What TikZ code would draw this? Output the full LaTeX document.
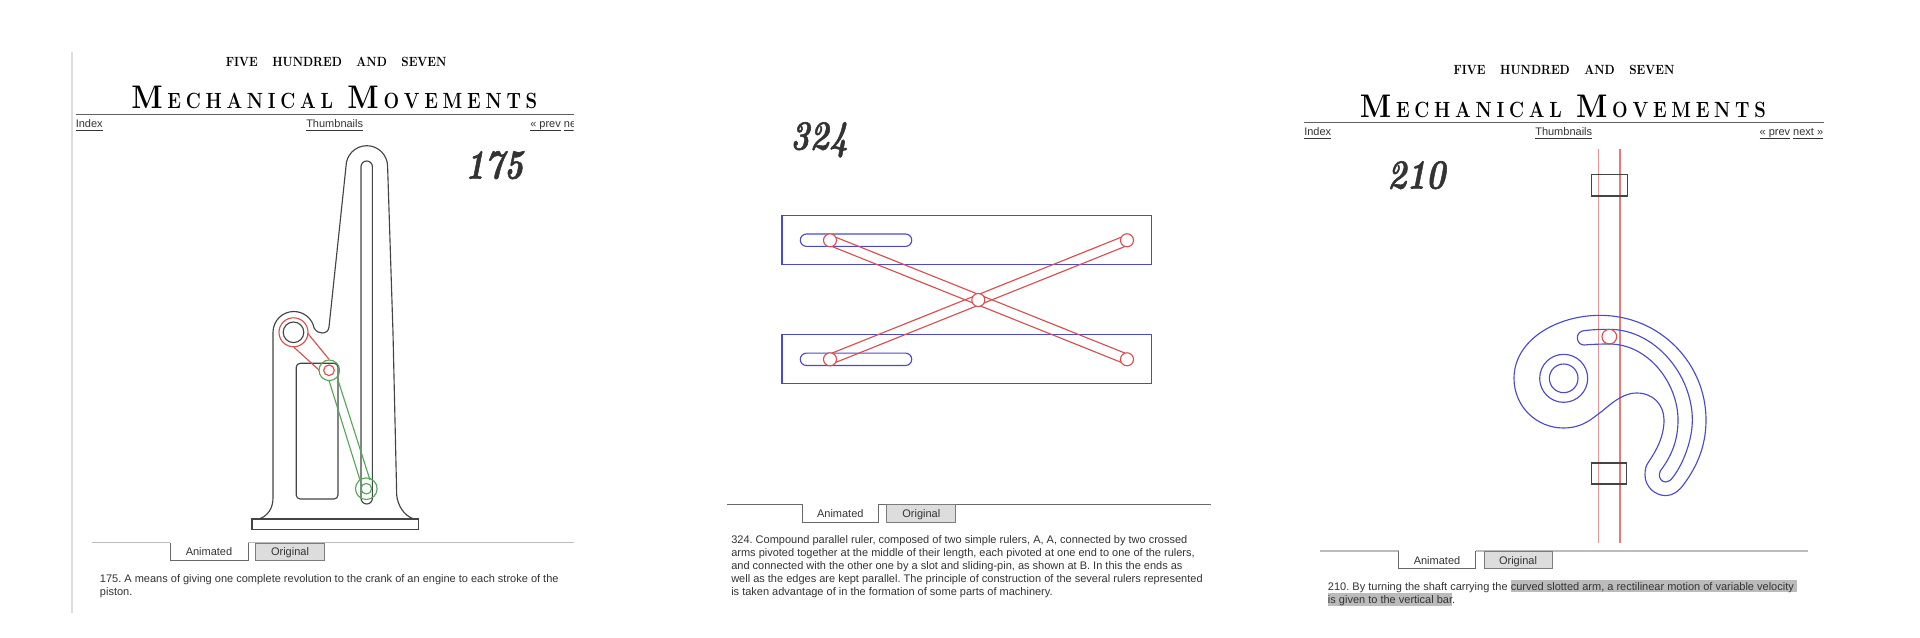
\documentclass[tikz,border=0pt]{standalone}
\usepackage{fontspec}
\usepackage{graphicx}
\setsansfont{Liberation Sans}
\definecolor{ink}{HTML}{333333}
\definecolor{fr}{HTML}{444444}
\definecolor{rd}{HTML}{D94F4F}
\definecolor{bl}{HTML}{4A4ACB}
\definecolor{gr}{HTML}{55A855}
\definecolor{tabf}{HTML}{DDDDDD}
\definecolor{hl}{HTML}{BBBBBB}
\newcommand\thick[2]{\special{pdf:code 2 Tr #1 w}#2\special{pdf:code 0 Tr}}
\newcommand\tlb[1]{\scalebox{.9}[1]{\bfseries\fontsize{24.5}{25}\selectfont #1}}
\newcommand\tls[1]{\scalebox{.84}[1]{\bfseries\fontsize{16.5}{18}\selectfont #1}}
\newcommand\mechtitle{\makebox[304.5pt][s]{\tlb{M}\hfil\tls{E}\hfil\tls{C}\hfil\tls{H}\hfil\tls{A}\hfil\tls{N}\hfil\tls{I}\hfil\tls{C}\hfil\tls{A}\hfil\tls{L}\hfil\hfil\hfil\tlb{M}\hfil\tls{O}\hfil\tls{V}\hfil\tls{E}\hfil\tls{M}\hfil\tls{E}\hfil\tls{N}\hfil\tls{T}\hfil\tls{S}}}
\newcommand\fw[1]{\scalebox{.86}[1]{\bfseries\fontsize{10}{12}\selectfont\addfontfeature{LetterSpace=3} #1}}
\newcommand\fivetitle{\makebox[165.5pt][s]{\fw{FIVE}\hfil\fw{HUNDRED}\hfil\fw{AND}\hfil\fw{SEVEN}}}
\newcommand\bignum[1]{\resizebox{43.5pt}{20.5pt}{\bfseries\itshape\thick{0.14}{#1}}}
\newcommand\ul[1]{\underline{\smash{#1}}}
\tikzset{
  lk/.style={line width=0.85pt,draw=fr},
  redl/.style={line width=0.85pt,draw=rd},
  grn/.style={line width=0.85pt,draw=gr},
  blu/.style={line width=0.85pt,draw=bl},
  rulel/.style={line width=1pt,draw=#1},
  title/.style={anchor=base west,inner sep=0pt,text=black},
  navl/.style={anchor=base west,inner sep=0pt,text=ink,font=\sffamily\fontsize{8.25}{10}\selectfont},
  bodyl/.style={anchor=base west,inner sep=0pt,text=ink,font=\sffamily\frenchspacing\fontsize{8.25}{10}\selectfont},
  tabl/.style={anchor=base,inner sep=0pt,text=ink,font=\sffamily\fontsize{8.25}{10}\selectfont},
  num/.style={anchor=base west,inner sep=0pt,text=ink},
}
\begin{document}
\begin{tikzpicture}[x=0.75pt,y=-0.75pt]
\useasboundingbox (0,0) rectangle (1920,638);
\fill[white] (0,0) rectangle (1920,638);
% ---------- panel 1
\draw[line width=1.2pt,draw=tabf] (72,52) -- (72,613);
\node[title] (t1a) at (225.5,67) {\fivetitle};
\node[title] (t1b) at (131,109) {\mechtitle};
\draw[rulel=fr!85] (75.5,114.3) -- (574,114.3);
\node[navl] (n1a) at (75.5,128) {\ul{Index}};
\node[navl] (n1b) at (306,128) {\ul{Thumbnails}};
\begin{scope}
\clip (500,115) rectangle (573.5,140);
\node[navl] (n1c) at (530,128) {\ul{« prev} \ul{next »}};
\end{scope}
\node[num] (p1) at (465,178.5) {\bignum{175}};
% frame
\draw[lk] (260,518.6) .. controls (268,515.5) and (273,508) .. (273,498) -- (273,332.3)
  arc[start angle=180,end angle=349,radius=20.8]
  .. controls (316.5,331.5) and (319,333) .. (322,333)
  .. controls (326,333) and (328.5,331) .. (329,327)
  -- (346,166.5) arc[start angle=180,end angle=360,radius=20.8]
  -- (393,333) -- (396.7,495) .. controls (397.5,505) and (404,516) .. (414,519);
\draw[lk] (252,519) rectangle (418.7,529.6);
\draw[lk] (361,166.7) arc[start angle=180,end angle=360,radius=5.7] -- (372.4,498.3)
  arc[start angle=0,end angle=180,radius=5.7] -- cycle;
\draw[lk,rounded corners=3pt] (296.2,363.3) rectangle (338,499);
\draw[lk] (293.5,332.3) circle[radius=10.3];
% links
\draw[redl] (293.5,332.3) circle[radius=14.5];
\draw[redl] (307.7,333.3) -- (329,359.3);
\draw[redl] (294,347.3) -- (319.3,370.3);
\draw[redl] (329,370.3) circle[radius=5.3];
\draw[grn] (329.3,370.3) circle[radius=10.3];
\draw[grn] (329,380.5) -- (360,480);
\draw[grn] (337.5,378.5) -- (370,480);
\draw[grn] (366.3,488.7) circle[radius=10.8];
\draw[grn] (366.3,488.7) circle[radius=5.3];
% tabs
\draw[rulel=hl] (91.7,542.7) -- (170.3,542.7);
\draw[rulel=hl] (248,542.7) -- (574,542.7);
\draw[line width=0.75pt,draw=fr!80] (170.3,542.7) -- (170.3,560.3) -- (248,560.3) -- (248,542.7);
\draw[line width=0.75pt,draw=fr!70,fill=tabf] (255.5,543) rectangle (324.5,560.3);
\node[tabl] (a1) at (209,555.8) {Animated};
\node[tabl] (o1) at (290,555.8) {Original};
\node[bodyl] (b1a) at (99.7,582.2) {175. A means of giving one complete revolution to the crank of an engine to each stroke of the};
\node[bodyl] (b1b) at (99.7,595) {piston.};
% ---------- panel 2
\node[num] (p2) at (790,149.5) {\bignum{324}};
\draw[blu] (782,215.7) rectangle (1151.7,264.6);
\draw[blu] (782,334.7) rectangle (1151.7,383.6);
\draw[blu,rounded corners=4.6pt] (800.3,234) rectangle (911.7,246.4);
\draw[blu,rounded corners=4.6pt] (800.3,353.1) rectangle (911.7,365.5);
\draw[redl] (835.7,237.2) -- (1125,353.1);
\draw[redl] (832,246.5) -- (1121.3,362.4);
\draw[redl] (1121.3,237.2) -- (832,353.1);
\draw[redl] (1125,246.5) -- (835.7,362.4);
\foreach \n/\a/\b in {c1/830/240.3,c2/1127/240.3,c3/830/359.3,c4/1127/359.3,c5/978.3/300}
  \draw[redl,fill=white] (\a,\b) circle[radius=6.5];
\draw[rulel=fr!80] (727.3,504.3) -- (802.3,504.3);
\draw[rulel=fr!80] (878.7,504.3) -- (1210.7,504.3);
\draw[line width=0.75pt,draw=fr!80] (802.3,504.3) -- (802.3,522.3) -- (878.7,522.3) -- (878.7,504.3);
\draw[line width=0.75pt,draw=fr!70,fill=tabf] (886.7,504.6) rectangle (955.7,522.3);
\node[tabl] (a2) at (840.3,517.4) {Animated};
\node[tabl] (o2) at (921.3,517.4) {Original};
\node[bodyl] (b2a) at (731,543.6) {324. Compound parallel ruler, composed of two simple rulers, A, A, connected by two crossed};
\node[bodyl] (b2b) at (731,556.6) {arms pivoted together at the middle of their length, each pivoted at one end to one of the rulers,};
\node[bodyl] (b2c) at (731,569.6) {and connected with the other one by a slot and sliding-pin, as shown at B. In this the ends as};
\node[bodyl] (b2d) at (731,582.6) {well as the edges are kept parallel. The principle of construction of the several rulers represented};
\node[bodyl] (b2e) at (731,595.6) {is taken advantage of in the formation of some parts of machinery.};
% ---------- panel 3
\node[title] (t3a) at (1453.4,75) {\fivetitle};
\node[title] (t3b) at (1359.7,117.3) {\mechtitle};
\draw[rulel=fr!85] (1304,122.3) -- (1824,122.3);
\node[navl] (n3a) at (1304,136) {\ul{Index}};
\node[navl] (n3b) at (1535,136) {\ul{Thumbnails}};
\node[navl] (n3c) at (1759.3,136) {\ul{« prev} \ul{next »}};
\node[num] (p3) at (1387,188.5) {\bignum{210}};
\draw[line width=1pt,draw=rd!60] (1598.7,149) -- (1598.7,542.7);
\draw[line width=1pt,draw=rd!75] (1620,149) -- (1620,542.7);
\draw[lk] (1591.7,174.3) rectangle (1627.2,196);
\draw[lk] (1591.3,463) rectangle (1626.7,484);
\begin{scope}[shift={(1480,300)},x=0.25pt,y=-0.25pt]
\draw[blu] (360,46) .. controls (230,46) and (102,120) .. (102,235)
  .. controls (102,320) and (170,384) .. (250,384)
  .. controls (310,384) and (340,352) .. (355,342)
  .. controls (380,325) and (420,279) .. (470,279)
  .. controls (520,279) and (552,315) .. (552,360)
  .. controls (552,410) and (530,450) .. (505,487)
  .. controls (497,498) and (495,510) .. (495,525)
  .. controls (495,560) and (525,587) .. (558,587)
  .. controls (580,587) and (600,570) .. (612,552)
  .. controls (650,500) and (678,440) .. (678,360)
  .. controls (678,190) and (540,46) .. (360,46) -- cycle;
\draw[blu] (312,92) .. controls (335,89) and (360,88) .. (388,88)
  .. controls (525,88) and (637,225) .. (637,360)
  .. controls (637,420) and (610,490) .. (580,530)
  .. controls (572,541) and (566,546) .. (557,546)
  .. controls (545,546) and (537,535) .. (538,522)
  .. controls (539,515) and (542,510) .. (548,503)
  .. controls (575,465) and (594,420) .. (594,360)
  .. controls (594,250) and (505,132) .. (388,132)
  .. controls (360,132) and (335,133) .. (312,135)
  .. controls (300,135) and (292,125) .. (292,113)
  .. controls (292,102) and (300,93) .. (312,92) -- cycle;
\draw[blu] (251,235) circle[radius=72];
\draw[blu] (251,235) circle[radius=43];
\draw[redl] (388,110) circle[radius=22];
\end{scope}
\draw[rulel=hl] (1320,551) -- (1398.7,551);
\draw[rulel=hl] (1475.7,551) -- (1807.7,551);
\draw[line width=0.75pt,draw=fr!80] (1398.7,551) -- (1398.7,568.3) -- (1475.7,568.3) -- (1475.7,551);
\draw[line width=0.75pt,draw=fr!70,fill=tabf] (1484,551.3) rectangle (1552.3,568.3);
\node[tabl] (a3) at (1437,564) {Animated};
\node[tabl] (o3) at (1518,564) {Original};
\fill[hl] (1510.7,580) rectangle (1797,592.3);
\fill[hl] (1327.7,593) rectangle (1452.3,605.7);
\node[bodyl] (b3a) at (1327.7,590) {210. By turning the shaft carrying the curved slotted arm, a rectilinear motion of variable velocity};
\node[bodyl] (b3b) at (1327.7,603) {is given to the vertical bar.};
\end{tikzpicture}
\end{document}
